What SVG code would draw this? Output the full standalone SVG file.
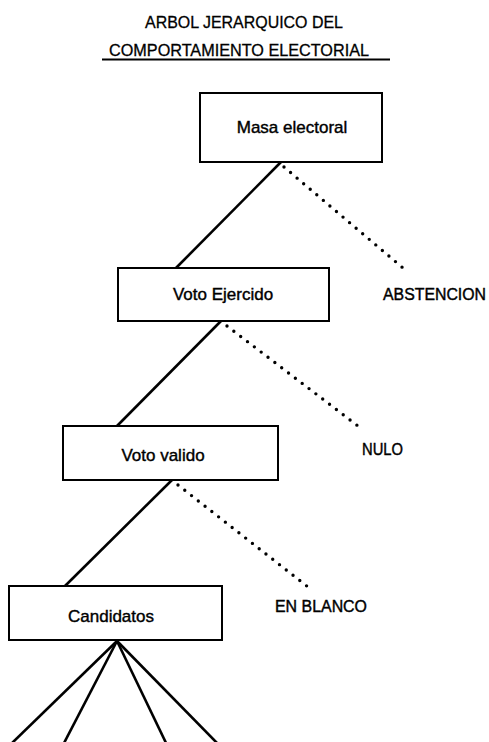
<svg xmlns="http://www.w3.org/2000/svg" width="489" height="742" viewBox="0 0 489 742">
<style>
.box{fill:#fff;stroke:#000;stroke-width:2}
.nt{font-family:"Liberation Sans",Arial,sans-serif;font-size:17px;fill:#000;stroke:#000;stroke-width:0.4;text-anchor:middle}
.lb{font-family:"Liberation Sans",Arial,sans-serif;font-size:16px;fill:#000;stroke:#000;stroke-width:0.4}
.tt{font-family:"Liberation Sans",Arial,sans-serif;font-size:17px;fill:#000;stroke:#000;stroke-width:0.3}
.solid{stroke:#000;stroke-width:2.6;fill:none}
.dot{stroke:#000;stroke-width:3.4;stroke-linecap:round;stroke-dasharray:0 8.6;fill:none}
</style>
<rect width="489" height="742" fill="#fff"/>
<g id="title">
<text class="tt" x="145" y="28" textLength="198" lengthAdjust="spacingAndGlyphs">ARBOL JERARQUICO DEL</text>
<text class="tt" x="109" y="56" textLength="260" lengthAdjust="spacingAndGlyphs">COMPORTAMIENTO ELECTORIAL</text>
<line x1="102" y1="59.5" x2="390" y2="59.5" stroke="#000" stroke-width="1.8"/>
</g>
<g id="connectors">
<line class="solid" x1="281" y1="162" x2="176" y2="268"/>
<line class="dot" x1="284" y1="167" x2="403" y2="268"/>
<line class="solid" x1="221" y1="321" x2="117" y2="426"/>
<line class="dot" x1="227" y1="326" x2="358" y2="426"/>
<line class="solid" x1="172" y1="480" x2="65" y2="586"/>
<line class="dot" x1="178" y1="485" x2="308" y2="587"/>
<line class="solid" x1="117" y1="641" x2="10" y2="745"/>
<line class="solid" x1="117" y1="641" x2="63" y2="745"/>
<line class="solid" x1="117" y1="641" x2="167" y2="745"/>
<line class="solid" x1="117" y1="641" x2="219" y2="745"/>
</g>
<g id="masa">
<rect class="box" x="200" y="93" width="182" height="69"/>
<text class="nt" x="292" y="133">Masa electoral</text>
</g>
<g id="abstencion">
<text class="lb" x="383" y="300" textLength="103" lengthAdjust="spacingAndGlyphs">ABSTENCION</text>
</g>
<g id="voto-ejercido">
<rect class="box" x="118" y="268" width="211" height="53"/>
<text class="nt" x="223" y="300">Voto Ejercido</text>
</g>
<g id="nulo">
<text class="lb" x="362" y="455" textLength="41" lengthAdjust="spacingAndGlyphs">NULO</text>
</g>
<g id="voto-valido">
<rect class="box" x="63" y="426" width="215" height="54"/>
<text class="nt" x="163" y="461">Voto valido</text>
</g>
<g id="en-blanco">
<text class="lb" x="275" y="612" textLength="92" lengthAdjust="spacingAndGlyphs">EN BLANCO</text>
</g>
<g id="candidatos">
<rect class="box" x="9" y="586" width="213" height="54"/>
<text class="nt" x="111" y="622">Candidatos</text>
</g>
</svg>
